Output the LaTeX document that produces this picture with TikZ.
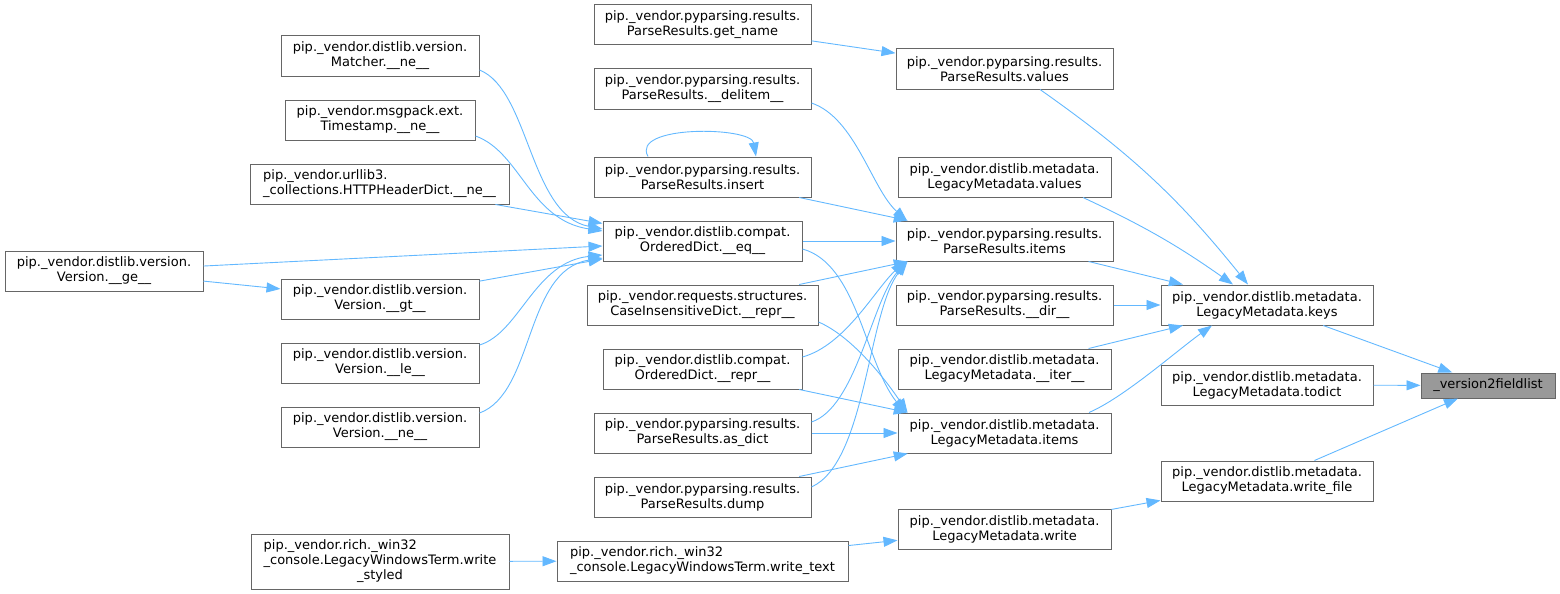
\documentclass[tikz,border=0pt]{standalone}
\usepackage{fontspec}
\setmainfont{DejaVu Sans}
\usetikzlibrary{arrows.meta}
\definecolor{edgeblue}{HTML}{63B8FF}
\definecolor{boxgray}{HTML}{666666}
\definecolor{hlgray}{HTML}{999999}
\newcommand{\lpad}[2]{\rlap{#1}\phantom{#2}}

\begin{document}
\begin{tikzpicture}[x=1pt,y=-1pt,
  fn/.style={draw=boxgray,fill=white,line width=1pt,inner sep=0pt,align=center,minimum height=40pt,font=\fontsize{13}{15}\selectfont},
  call/.style={draw=edgeblue,line width=0.9pt,-{Triangle[length=14pt,width=10pt]}}]
\useasboundingbox (0,0) rectangle (1560,594);

\node[fn,minimum width=134pt,minimum height=25pt,fill=hlgray] (v2f) at (1488,385.5) {\_version2fieldlist};
\node[fn,minimum width=212pt] (keys) at (1267,305) {pip.\_vendor.distlib.metadata.\\LegacyMetadata.keys};
\node[fn,minimum width=212pt] (todict) at (1267,385) {pip.\_vendor.distlib.metadata.\\LegacyMetadata.todict};
\node[fn,minimum width=212pt] (wfile) at (1267,481) {pip.\_vendor.distlib.metadata.\\LegacyMetadata.write\_file};

\node[fn,minimum width=217pt] (prvalues) at (1004.5,69) {pip.\_vendor.pyparsing.results.\\ParseResults.values};
\node[fn,minimum width=213pt] (lmvalues) at (1004.5,177) {pip.\_vendor.distlib.metadata.\\LegacyMetadata.values};
\node[fn,minimum width=217pt] (pritems) at (1004.5,241) {pip.\_vendor.pyparsing.results.\\ParseResults.items};
\node[fn,minimum width=217pt] (prdir) at (1004.5,305) {pip.\_vendor.pyparsing.results.\\ParseResults.\_\_dir\_\_};
\node[fn,minimum width=213pt] (lmiter) at (1004.5,369) {pip.\_vendor.distlib.metadata.\\LegacyMetadata.\_\_iter\_\_};
\node[fn,minimum width=213pt] (lmitems) at (1004.5,433) {pip.\_vendor.distlib.metadata.\\LegacyMetadata.items};
\node[fn,minimum width=213pt] (lmwrite) at (1004.5,529) {pip.\_vendor.distlib.metadata.\\LegacyMetadata.write};

\node[fn,minimum width=217pt] (getname) at (702.5,25) {pip.\_vendor.pyparsing.results.\\ParseResults.get\_name};
\node[fn,minimum width=217pt] (delitem) at (702.5,89) {pip.\_vendor.pyparsing.results.\\ParseResults.\_\_delitem\_\_};
\node[fn,minimum width=217pt] (insert) at (702.5,177) {pip.\_vendor.pyparsing.results.\\ParseResults.insert};
\node[fn,minimum width=199pt] (odeq) at (702.5,241) {pip.\_vendor.distlib.compat.\\OrderedDict.\_\_eq\_\_};
\node[fn,minimum width=231pt] (cidrepr) at (702.5,305) {pip.\_vendor.requests.structures.\\CaseInsensitiveDict.\_\_repr\_\_};
\node[fn,minimum width=199pt] (odrepr) at (702.5,369) {pip.\_vendor.distlib.compat.\\OrderedDict.\_\_repr\_\_};
\node[fn,minimum width=217pt] (asdict) at (702.5,433) {pip.\_vendor.pyparsing.results.\\ParseResults.as\_dict};
\node[fn,minimum width=217pt] (dump) at (702.5,497) {pip.\_vendor.pyparsing.results.\\ParseResults.dump};
\node[fn,minimum width=291pt] (wtext) at (702.5,561) {\lpad{pip.\_vendor.rich.\_win32}{\_console.LegacyWindowsTerm.write\_text}\\\_console.LegacyWindowsTerm.write\_text};

\node[fn,minimum width=198pt] (matcher) at (380,56) {pip.\_vendor.distlib.version.\\Matcher.\_\_ne\_\_};
\node[fn,minimum width=190pt] (tsne) at (380,120) {pip.\_vendor.msgpack.ext.\\Timestamp.\_\_ne\_\_};
\node[fn,minimum width=259pt] (httpne) at (379.5,184) {\lpad{pip.\_vendor.urllib3.}{\_collections.HTTPHeaderDict.\_\_ne\_\_}\\\_collections.HTTPHeaderDict.\_\_ne\_\_};
\node[fn,minimum width=198pt] (vge) at (104,271) {pip.\_vendor.distlib.version.\\Version.\_\_ge\_\_};
\node[fn,minimum width=198pt] (vgt) at (380,299) {pip.\_vendor.distlib.version.\\Version.\_\_gt\_\_};
\node[fn,minimum width=198pt] (vle) at (380,363) {pip.\_vendor.distlib.version.\\Version.\_\_le\_\_};
\node[fn,minimum width=198pt] (vne) at (380,427) {pip.\_vendor.distlib.version.\\Version.\_\_ne\_\_};
\node[fn,minimum width=258pt,minimum height=55pt] (wstyled) at (380,561.5) {\lpad{pip.\_vendor.rich.\_win32}{\_console.LegacyWindowsTerm.write}\\\_console.LegacyWindowsTerm.write\\\_styled};

\draw[call] (keys) -- (v2f);
\draw[call] (todict) -- (v2f);
\draw[call] (wfile) -- (v2f);

\draw[call] ([xshift=35.5pt]prvalues.south) to[bend left=8] ([xshift=-19pt]keys.north);
\draw[call] ([xshift=78.5pt]lmvalues.south) to[bend left=5] ([xshift=-34pt]keys.north);
\draw[call] (pritems) -- (keys);
\draw[call] (prdir) -- (keys);
\draw[call] (lmiter) -- (keys);
\draw[call] ([xshift=84.5pt]lmitems.north) .. controls +(35,-15) and +(-35,25) .. ([xshift=-55pt]keys.south);
\draw[call] (lmwrite) -- (wfile);

\draw[call] (getname) -- (prvalues);
\draw[call] ([yshift=-14pt]delitem.east) .. controls +(44,15) and +(-35,-31) .. ([xshift=-97.5pt]pritems.north);
\draw[call] (insert) -- (pritems);
\draw[call] ([xshift=-54.5pt]insert.north) .. controls +(-18,-32) and +(-5,-30) .. ([xshift=53.5pt]insert.north);
\draw[call] (odeq) -- (pritems);
\draw[call] (cidrepr) -- (pritems);
\draw[call] ([yshift=12pt]odrepr.east) .. controls +(43,-12) and +(-30,28) .. ([xshift=-99.5pt]pritems.south);
\draw[call] ([yshift=11pt]asdict.east) .. controls +(45,-15) and +(-35,40) .. ([xshift=-98pt]pritems.south);
\draw[call] ([yshift=10pt]dump.east) .. controls +(55,-25) and +(-40,50) .. ([xshift=-97pt]pritems.south);

\draw[call] ([yshift=-8pt]odeq.east) .. controls +(55,15) and +(-40,-50) .. ([xshift=-99.5pt]lmitems.north);
\draw[call] ([yshift=-17pt]cidrepr.east) .. controls +(35,15) and +(-20,-30) .. ([xshift=-97pt]lmitems.north);
\draw[call] (odrepr) -- (lmitems);
\draw[call] (asdict) -- (lmitems);
\draw[call] (dump) -- (lmitems);
\draw[call] (wtext) -- (lmwrite);
\draw[call] (wstyled) -- (wtext);

\draw[call] ([yshift=-14pt]matcher.east) .. controls +(50,20) and +(-73,-14) .. ([yshift=12pt]odeq.west);
\draw[call] ([yshift=-16pt]tsne.east) .. controls +(45,16) and +(-73,-11) .. ([yshift=10pt]odeq.west);
\draw[call] (httpne) -- (odeq);
\draw[call] (vge) -- (odeq);
\draw[call] (vge) -- (vgt);
\draw[call] (vgt) -- (odeq);
\draw[call] ([yshift=18pt]vle.east) .. controls +(40,-12) and +(-68,7) .. ([yshift=-14pt]odeq.west);
\draw[call] ([yshift=14pt]vne.east) .. controls +(55,-20) and +(-78,12) .. ([yshift=-17pt]odeq.west);
\end{tikzpicture}
\end{document}
